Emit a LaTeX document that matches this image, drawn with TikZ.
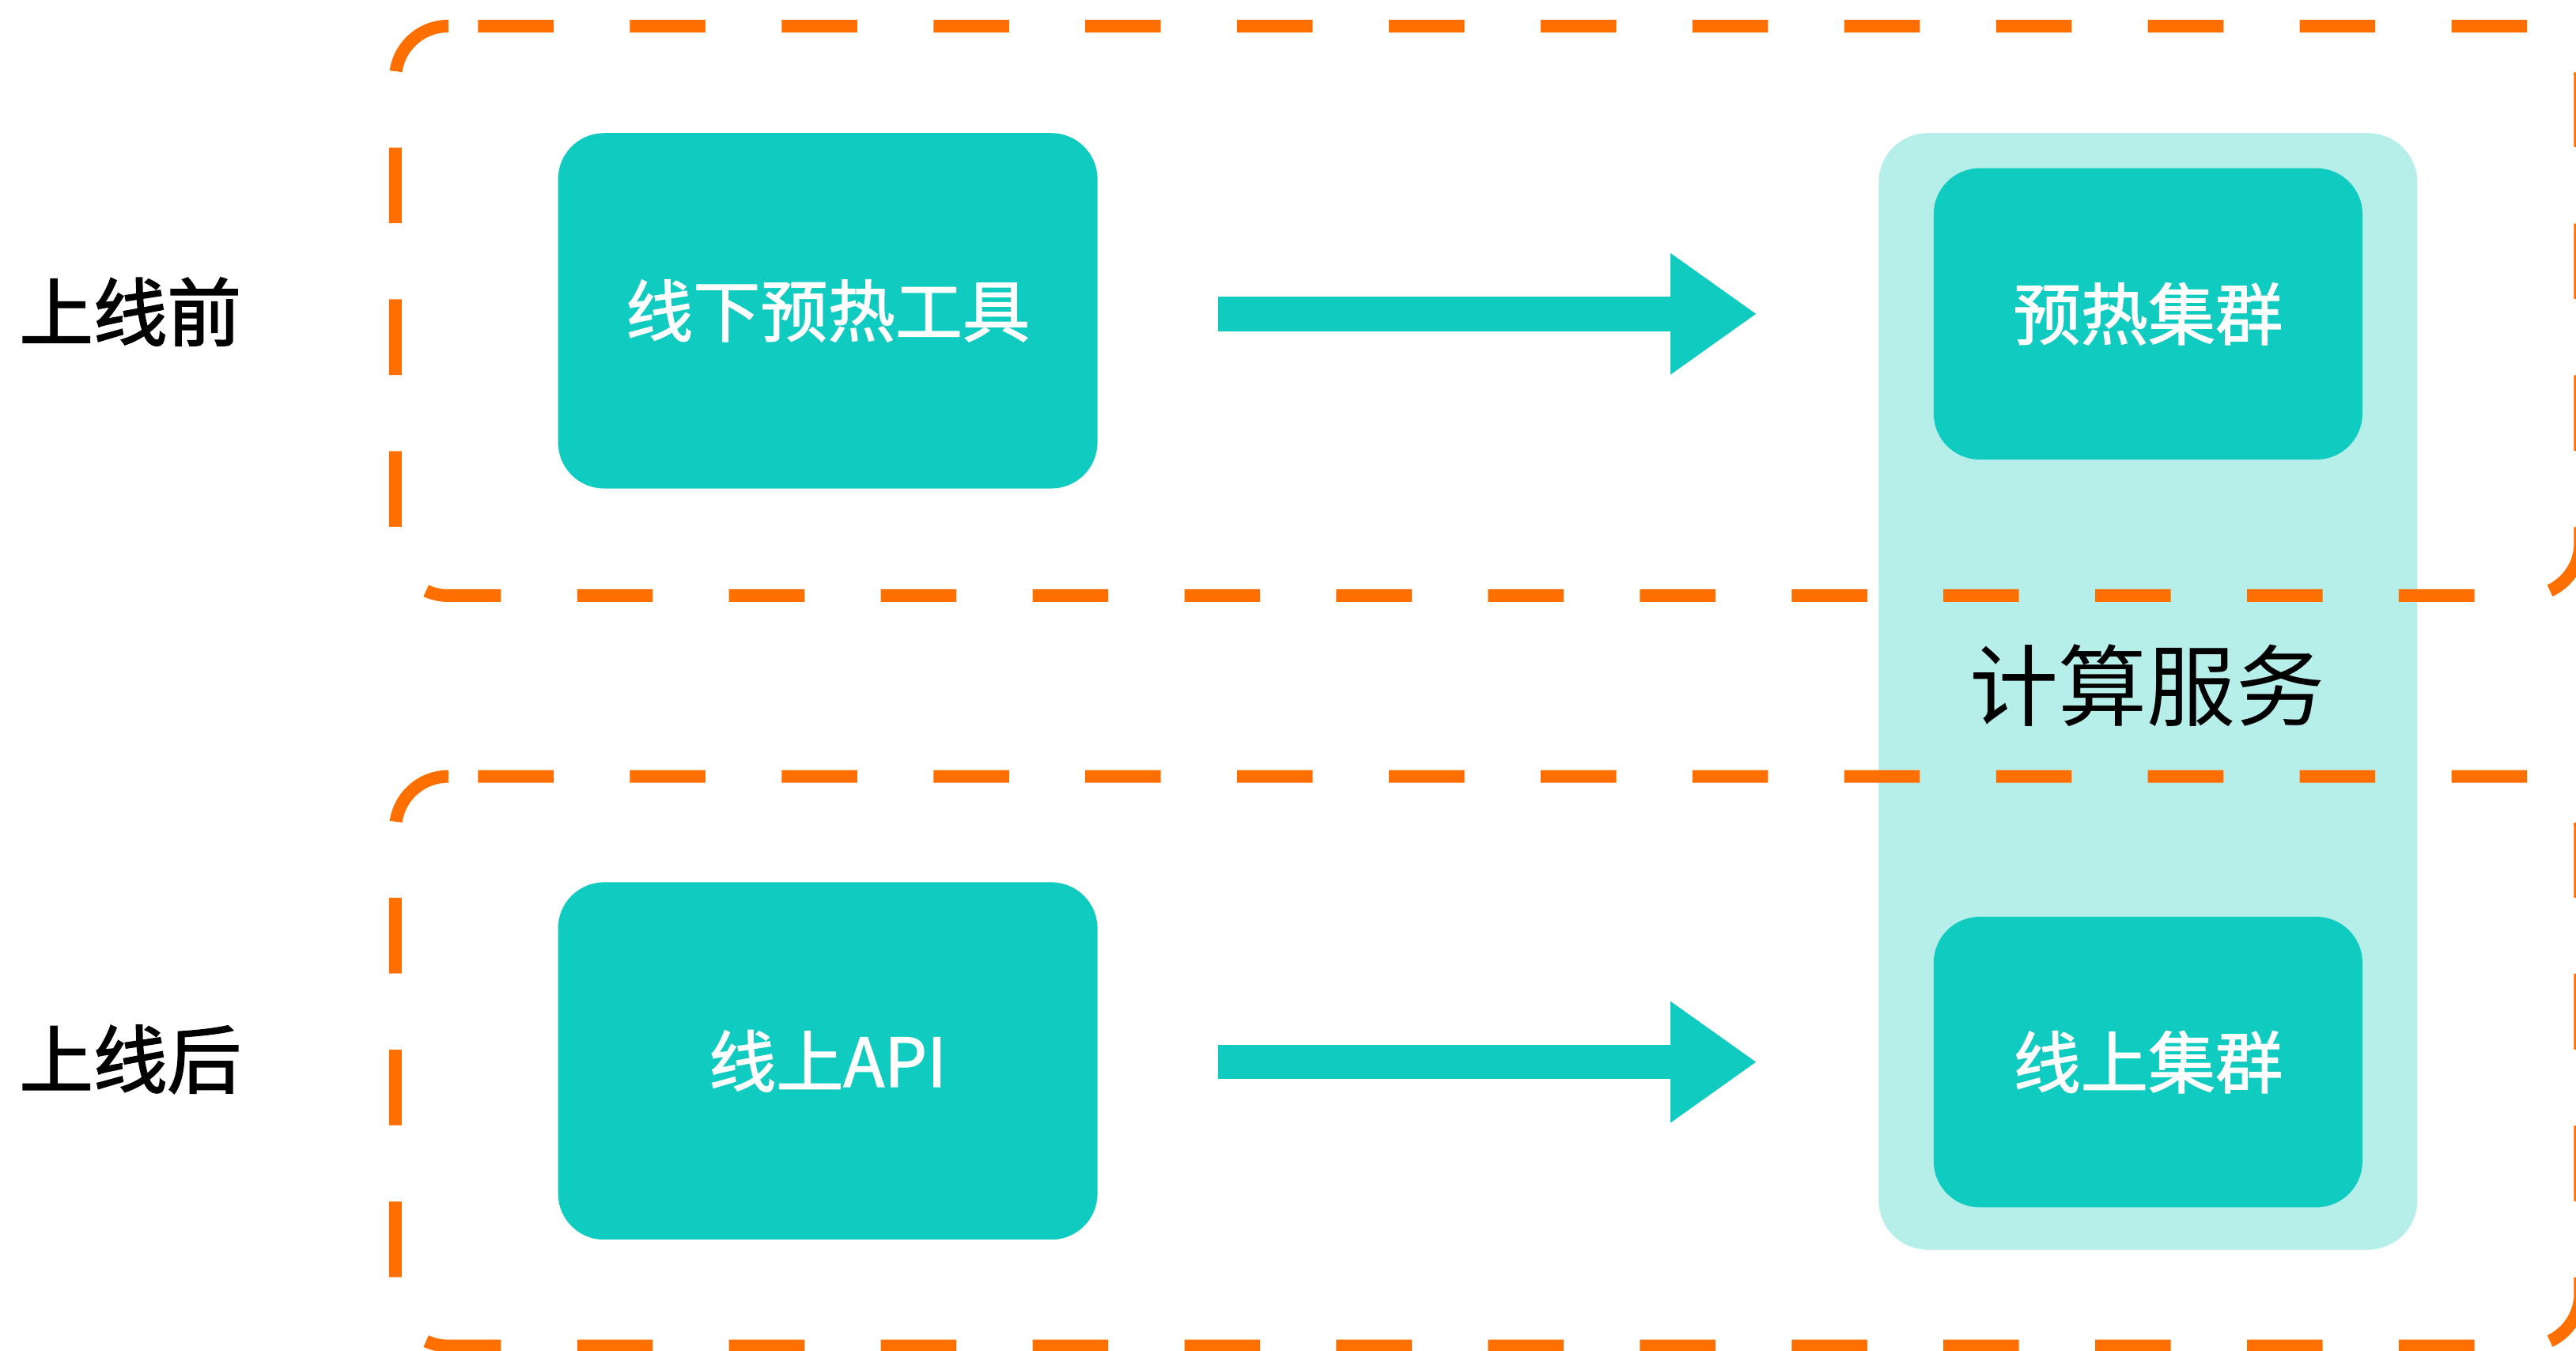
\documentclass[tikz,border=0pt]{standalone}
\usepackage{fontspec}
\newfontfamily\cjk{Noto Sans CJK SC}
\newfontfamily\cjkmed[FakeBold=1.5]{Noto Sans CJK SC}
\newfontfamily\cjkbold[FakeBold=2]{Noto Sans CJK SC}
\usetikzlibrary{arrows.meta}
\definecolor{tealfill}{HTML}{0FCBC0}
\definecolor{lightteal}{HTML}{B6EFEA}
\definecolor{orangeline}{HTML}{FF6F00}
\begin{document}
\begin{tikzpicture}[x=1pt,y=1pt,
  stagebox/.style={draw=orangeline, line width=7.7pt, dash pattern=on 46pt off 46.4pt, rounded corners=32pt},
  toolbox/.style={fill=tealfill, rounded corners=28pt, inner sep=0pt, text=white,
    font={\cjkmed\fontsize{41pt}{41pt}\selectfont}},
  svcbox/.style={fill=lightteal, rounded corners=30pt, inner sep=0pt},
  svclabel/.style={inner sep=0pt, text=black, font={\cjk\fontsize{54pt}{54pt}\selectfont}},
  stagelabel/.style={inner sep=0pt, text=black, font={\cjkbold\fontsize{45pt}{45pt}\selectfont}},
  flow/.style={draw=tealfill, line width=21pt, -{Triangle[length=52pt,width=74pt,line width=0pt]}}
]
\useasboundingbox (0,0) rectangle (1568,822);

% compute service container
\node[svcbox, minimum width=327.9pt, minimum height=679.6pt] (cont) at (1307.45,401.2) {};
\node[svclabel] (svcl) at (1307,405) {计算服务};

% dashed stage boxes
\draw[stagebox] (291,806.1) -- (1570.6,806.1) -- (1570.6,459.5) -- (240.7,459.5) -- (240.7,806.1) -- (291,806.1);
\draw[stagebox] (291,349.4) -- (1570.6,349.4) -- (1570.6,2.8) -- (240.7,2.8) -- (240.7,349.4) -- (291,349.4);

% boxes
\node[toolbox, minimum width=328.3pt, minimum height=216.3pt] (b1) at (503.85,632.85) {线下预热工具};
\node[toolbox, minimum width=328.3pt, minimum height=217.5pt] (b2) at (503.85,176.25) {线上API};
\node[toolbox, minimum width=261pt, minimum height=177.3pt] (in1) at (1307.5,630.95) {预热集群};
\node[toolbox, minimum width=261pt, minimum height=176.8pt] (in2) at (1307.5,175.6) {线上集群};

% arrows
\draw[flow, shorten <=73.4pt, shorten >=108pt] (b1.east |- in1.west) -- (in1.west);
\draw[flow, shorten <=73.4pt, shorten >=108pt] (b2.east |- in2.west) -- (in2.west);

% stage labels
\node[stagelabel] (pre) at (79.3,632.3) {上线前};
\node[stagelabel] (post) at (79.3,177.3) {上线后};
\end{tikzpicture}
\end{document}
